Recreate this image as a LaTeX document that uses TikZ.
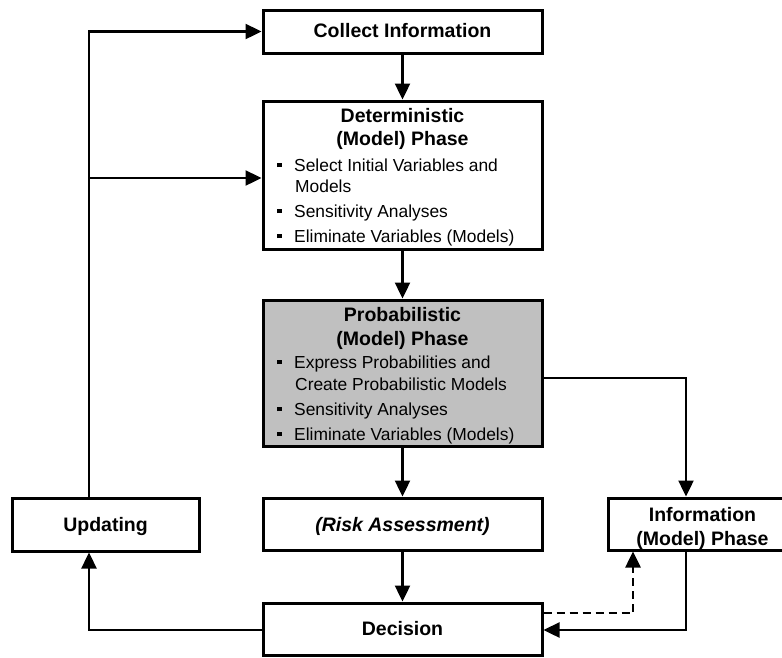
\documentclass[tikz,border=0pt]{standalone}
\usepackage{fontspec}
\setmainfont{Liberation Sans}
\usetikzlibrary{arrows.meta}
\definecolor{boxgray}{RGB}{192,192,192}
\newcommand{\bul}{\rule[4pt]{4.5pt}{4.5pt}\hspace{12.5pt}}
\begin{document}
\begin{tikzpicture}[x=1pt,y=-1pt,
  box/.style={draw,line width=3pt,inner sep=0pt,minimum width=279pt},
  ttl/.style={font=\fontsize{19.5}{23}\selectfont\bfseries,anchor=base,inner sep=0pt},
  itm/.style={font=\fontsize{17.4}{21}\selectfont,anchor=base west,inner sep=0pt},
  arr/.style={line width=2.4pt,-{Triangle[length=16pt,width=15pt]}},
  dsh/.style={arr,line width=2.6pt,dash pattern=on 8pt off 5pt}]
\clip (0,0) rectangle (782,657);
\fill[white] (0,0) rectangle (782,657);

% boxes
\node[box,minimum height=43pt] (collect) at (402.5,31.5) {};
\node[box,minimum height=148pt] (det) at (402.5,175) {};
\node[box,minimum height=146pt,fill=boxgray] (prob) at (402.5,373) {};
\node[box,minimum height=52pt] (risk) at (402.5,524) {};
\node[box,minimum height=52pt] (dec) at (402.5,629) {};
\node[box,minimum height=53pt,minimum width=187pt] (upd) at (105.5,524.5) {};
\node[box,minimum height=52pt,minimum width=189pt] (info) at (702.5,524) {};

% texts
\node[ttl] (tcollect) at (402.5,37) {Collect Information};
\node[ttl] (tdet1) at (402.5,122) {Deterministic};
\node[ttl] (tdet2) at (402.5,145) {(Model) Phase};
\node[itm] (d1) at (277,171) {\bul Select Initial Variables and};
\node[itm] (d1b) at (295,192) {Models};
\node[itm] (d2) at (277,217) {\bul Sensitivity Analyses};
\node[itm] (d3) at (277,242) {\bul Eliminate Variables (Models)};
\node[ttl] (tprob1) at (402.5,321) {Probabilistic};
\node[ttl] (tprob2) at (402.5,345) {(Model) Phase};
\node[itm] (p1) at (277,368) {\bul Express Probabilities and};
\node[itm] (p1b) at (295,390) {Create Probabilistic Models};
\node[itm] (p2) at (277,415) {\bul Sensitivity Analyses};
\node[itm] (p3) at (277,440) {\bul Eliminate Variables (Models)};
\node[ttl] (trisk) at (402.5,531) {\itshape(Risk Assessment)};
\node[ttl] (tdec) at (402.5,635) {Decision};
\node[ttl] (tupd) at (105.5,531) {Updating};
\node[ttl] (tinfo1) at (702.5,521) {Information};
\node[ttl] (tinfo2) at (702.5,545) {(Model) Phase};

% routing coordinates
\coordinate (lx) at (89,0);
\coordinate (br) at (89,178);
\coordinate (px) at (686,378);
\coordinate (dx) at (633,613);
\coordinate (rx) at (686,630);

% main column
\draw[arr] (collect.south) -- (det.north);
\draw[arr] (det.south) -- (prob.north);
\draw[arr] (prob.south) -- (risk.north);
\draw[arr] (risk.south) -- (dec.north);

% feedback loop through updating
\draw[arr] (dec.west |- rx) -| (lx |- upd.south);
\draw[arr] (lx |- upd.north) |- (collect.west);
\draw[arr] (br) -- (br -| det.west);

% information phase
\draw[arr] (prob.east |- px) -| (px |- info.north);
\draw[arr] (px |- info.south) |- (dec.east |- rx);
\draw[dsh] (dec.east |- dx) -| (dx |- info.south);
\end{tikzpicture}
\end{document}
